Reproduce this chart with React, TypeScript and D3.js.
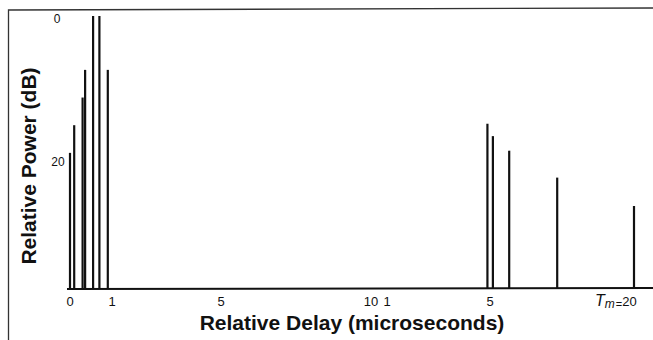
import React from 'react';
import * as d3 from 'd3';

// early cluster (delay in microseconds, power in dB)
const earlyDelays = [0, 0.1, 0.3, 0.36, 0.55, 0.7, 0.9];
const earlyPower = [-18.8, -15, -11.2, -7.4, 0, 0, -7.4];
// late cluster
const lateDelays = [4.9, 5.3, 7, 12, 20];
const latePower = [-14.8, -16.5, -18.5, -22.2, -26.1];

const earlyTicks = [0, 1, 5, 10];
const lateTicks = [1, 5];
const yTicks = [0, -20];

const W = 653;
const H = 340;
const font = '"Liberation Sans", Arial, Helvetica, sans-serif';

const App: React.FC = () => {
  // broken, hand-drawn delay axis: two piecewise scales
  const xEarly = d3.scaleLinear().domain([0, 1, 5, 10]).range([70, 112, 221, 371]);
  const xLate = d3.scaleLinear().domain([1, 5, 20]).range([387, 490, 634]);
  const y = d3.scaleLinear().domain([-37.5, 0]).range([289, 16]);

  const base = y(-37.5);

  return (
    <svg width={W} height={H} style={{ position: 'absolute', left: 0, top: 0, background: '#fff' }}>
      {/* frame */}
      <path d={`M8.5,${H} L8.5,10 L${W},8`} fill="none" stroke="#333" strokeWidth={1.3} />

      {/* baseline */}
      <line x1={67} x2={W} y1={base} y2={base - 1} stroke="#111" strokeWidth={2} />

      {earlyDelays.map((d, i) => (
        <line key={'e' + i} x1={xEarly(d)} x2={xEarly(d)} y1={base} y2={y(earlyPower[i])}
          stroke="#111" strokeWidth={2.2} />
      ))}
      {lateDelays.map((d, i) => (
        <line key={'l' + i} x1={xLate(d)} x2={xLate(d)} y1={base} y2={y(latePower[i])}
          stroke="#111" strokeWidth={2.2} />
      ))}

      {/* y tick labels */}
      {yTicks.map(t => (
        <text key={'y' + t} x={t === 0 ? 57 : 58} y={t === 0 ? 20 : 163} textAnchor="middle" dominantBaseline="middle"
          fontFamily={font} fontSize={12} fill="#111">
          {t === 0 ? '0' : String(-t)}
        </text>
      ))}

      {/* x tick labels */}
      {earlyTicks.map(t => (
        <text key={'xe' + t} x={xEarly(t)} y={306} textAnchor="middle"
          fontFamily={font} fontSize={13} fill="#111">{t}</text>
      ))}
      {lateTicks.map(t => (
        <text key={'xl' + t} x={xLate(t)} y={306} textAnchor="middle"
          fontFamily={font} fontSize={13} fill="#111">{t}</text>
      ))}
      <text x={xLate(20) - 39} y={306} textAnchor="start" fontFamily={font} fill="#111">
        <tspan fontSize={16} fontStyle="italic">T</tspan>
        <tspan fontSize={12} fontStyle="italic" dy={2}>m</tspan>
        <tspan fontSize={11} dx={1}>=</tspan>
        <tspan fontSize={13} dy={-2}>20</tspan>
      </text>

      {/* axis titles */}
      <text x={0} y={0} transform={`translate(36, 166) rotate(-90)`} textAnchor="middle"
        fontFamily={font} fontSize={21} fontWeight="bold" fill="#111">
        Relative Power (dB)
      </text>
      <text x={352} y={330} textAnchor="middle" fontFamily={font} fontSize={21} fontWeight="bold" fill="#111">
        Relative Delay (microseconds)
      </text>
    </svg>
  );
};

export default App;
